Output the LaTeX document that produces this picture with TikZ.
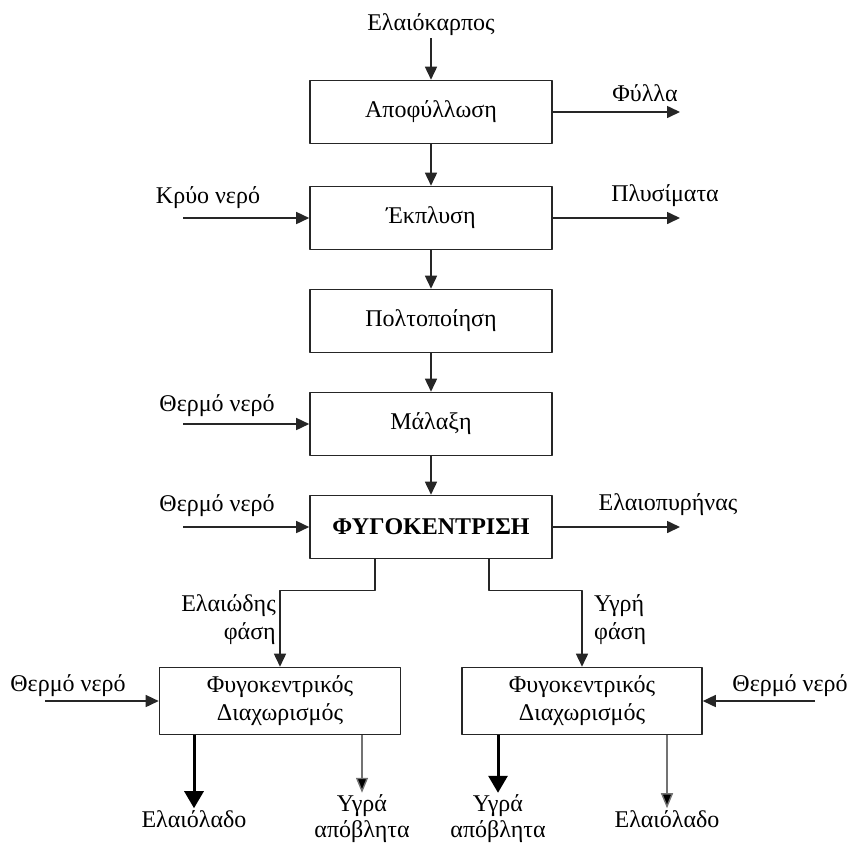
\documentclass[tikz,border=0pt]{standalone}
\usepackage{fontspec}
\setmainfont{Liberation Serif}
\usetikzlibrary{arrows.meta}
\begin{document}
\begin{tikzpicture}[x=1pt,y=-1pt, font=\fontsize{24}{28}\selectfont, line join=round,
	box/.style={draw=black!85, line width=1.6pt, minimum width=242pt, minimum height=63pt, inner sep=0pt},
	flow/.style={draw=black!85, line width=1.6pt, -{Triangle[length=13pt,width=12pt]}},
	heavy/.style={draw=black, line width=3pt, -{Triangle[length=17pt,width=19pt]}},
	light/.style={draw=black!55, line width=1.4pt, -{Triangle[length=15pt,width=12pt,fill=black]}},
	lbl/.style={inner sep=2pt}]
	\useasboundingbox (0,0) rectangle (850,849);
	% main column
	\node[box] (apo) at (431,112) {Αποφύλλωση};
	\node[box] (ekp) at (431,218) {Έκπλυση};
	\node[box] (pol) at (431,321) {Πολτοποίηση};
	\node[box] (mal) at (431,424) {Μάλαξη};
	\node[box] (fyg) at (431,527) {\bfseries ΦΥΓΟΚΕΝΤΡΙΣΗ};
	\node[box, minimum width=241pt, minimum height=67pt, align=center] (diaL) at (280,701) {Φυγοκεντρικός\\Διαχωρισμός};
	\node[box, minimum width=240pt, minimum height=67pt, align=center] (diaR) at (582,701) {Φυγοκεντρικός\\Διαχωρισμός};
	% labels
	\node[lbl] (karpos) at (431,25) {Ελαιόκαρπος};
	\node[lbl] (fylla) at (645,93) {Φύλλα};
	\node[lbl] (plys) at (665,196) {Πλυσίματα};
	\node[lbl] (pyr) at (668,505) {Ελαιοπυρήνας};
	\node[lbl] (kryo) at (208,198) {Κρύο νερό};
	\node[lbl] (therA) at (217,406) {Θερμό νερό};
	\node[lbl] (therB) at (217,506) {Θερμό νερό};
	\node[lbl] (therL) at (68,686) {Θερμό νερό};
	\node[lbl] (therR) at (790,686) {Θερμό νερό};
	\node[lbl, align=right, anchor=east] (elph) at (278,620) {Ελαιώδης\\φάση};
	\node[lbl, align=left, anchor=west] (ygph) at (592,620) {Υγρή\\φάση};
	\node[lbl] (oilL) at (194,819) {Ελαιόλαδο};
	\node[lbl, align=center, font=\fontsize{24}{26}\selectfont] (wasL) at (362,819) {Υγρά\\απόβλητα};
	\node[lbl, align=center, font=\fontsize{24}{26}\selectfont] (wasR) at (498,819) {Υγρά\\απόβλητα};
	\node[lbl] (oilR) at (667,819) {Ελαιόλαδο};
	% free ends
	\coordinate (kin) at (183,218);
	\coordinate (tinA) at (183,424);
	\coordinate (tinB) at (183,527);
	\coordinate (tinL) at (45,701);
	\coordinate (tinR) at (815,701);
	\coordinate (fout) at (680,112);
	\coordinate (pout) at (680,218);
	\coordinate (yout) at (680,527);
	% connectors
	\draw[flow] (karpos) -- (apo);
	\draw[flow] (apo) -- (ekp);
	\draw[flow] (ekp) -- (pol);
	\draw[flow] (pol) -- (mal);
	\draw[flow] (mal) -- (fyg);
	\draw[flow] (apo) -- (fout);
	\draw[flow] (ekp) -- (pout);
	\draw[flow] (fyg) -- (yout);
	\draw[flow] (kin) -- (ekp);
	\draw[flow] (tinA) -- (mal);
	\draw[flow] (tinB) -- (fyg);
	\draw[flow] (tinL) -- (diaL);
	\draw[flow] (tinR) -- (diaR);
	\draw[flow] ([xshift=-56pt]fyg.south) -- ++(0,31) -| (diaL);
	\draw[flow] ([xshift=58pt]fyg.south) -- ++(0,31) -| (diaR);
	\draw[heavy] (diaL.south -| oilL) -- (oilL);
	\draw[light] (diaL.south -| wasL) -- (wasL);
	\draw[heavy] (diaR.south -| wasR) -- (wasR);
	\draw[light] (diaR.south -| oilR) -- (oilR);
\end{tikzpicture}
\end{document}
